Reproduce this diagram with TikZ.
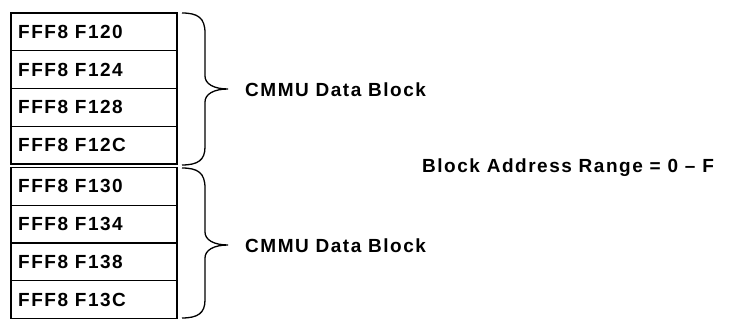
\documentclass[tikz,border=0pt]{standalone}
\usepackage{fontspec}
\setmainfont{Liberation Sans}[LetterSpace=8]
\begin{document}
\begin{tikzpicture}[x=1pt,y=-1pt,
  txt/.style={inner sep=0pt, font=\fontsize{19}{22}\selectfont\bfseries},
  cell/.style={draw, line width=1.2pt, minimum width=166pt, minimum height=37.75pt,
    inner sep=0pt, outer sep=0pt, anchor=north west},
  celltext/.style={txt, anchor=west},
  lbl/.style={txt, anchor=west},
  bracepath/.style={line width=1.3pt}]
\useasboundingbox (0,0) rectangle (729,320);
% first block of four words
\foreach \t [count=\i from 0] in {F120,F124,F128,F12C}{
  \node[cell] (a\i) at (11,13+37.75*\i) {};
  \node[celltext] (at\i) at ([xshift=7pt]a\i.west) {FFF8 \t};
}
% second block of four words
\foreach \t [count=\i from 0] in {F130,F134,F138,F13C}{
  \node[cell] (b\i) at (11,167.5+37.75*\i) {};
  \node[celltext] (bt\i) at ([xshift=7pt]b\i.west) {FFF8 \t};
}
% braces
\coordinate (ta) at (182,13);
\coordinate (ba) at (182,165);
\coordinate (tipa) at (228,89);
\coordinate (tb) at (182,168);
\coordinate (bb) at (182,318);
\coordinate (tipb) at (228,245);
\draw[bracepath] (ta) .. controls (198,13) and (205,18) .. (205,33) -- (205,76)
  .. controls (205,84) and (214,89) .. (tipa)
  .. controls (214,89) and (205,94) .. (205,102) -- (205,147)
  .. controls (205,160) and (198,165) .. (ba);
\draw[bracepath] (tb) .. controls (198,168) and (205,173) .. (205,188) -- (205,232)
  .. controls (205,240) and (214,245) .. (tipb)
  .. controls (214,245) and (205,250) .. (205,258) -- (205,300)
  .. controls (205,313) and (198,318) .. (bb);
% labels
\node[lbl] (la) at (245,90) {CMMU Data Block};
\node[lbl] (lb) at (245,246) {CMMU Data Block};
\node[lbl] (range) at (422,168) {Block Address Range = 0 -- F};
\end{tikzpicture}
\end{document}
